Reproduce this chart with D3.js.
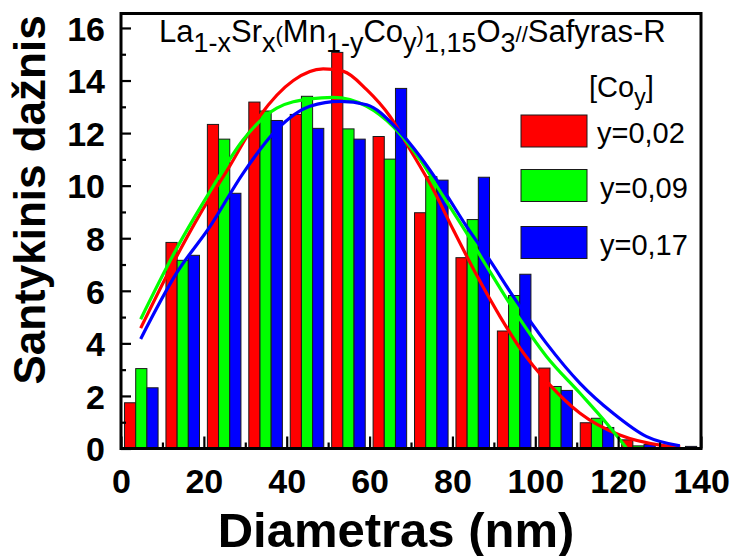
<!DOCTYPE html>
<html>
<head>
<meta charset="utf-8">
<script src="https://cdn.jsdelivr.net/npm/d3@7"></script>
<style>
  html, body { margin: 0; padding: 0; background: #fff; }
  svg { display: block; }
  text { font-family: "Liberation Sans", Arial, Helvetica, sans-serif; }
</style>
</head>
<body>
<svg id="chart" width="733" height="556"></svg>
<script>
// Particle diameter histogram, 10 nm bins
const binStarts = [0, 10, 20, 30, 40, 50, 60, 70, 80, 90, 100, 110, 120, 130];
const seriesNames = ["y=0,02", "y=0,09", "y=0,17"];
const seriesColors = ["#ff0000", "#00ff00", "#0000ff"];
const freqY002 = [1.74, 7.84, 12.33, 13.18, 12.71, 15.07, 11.87, 8.97, 7.26, 4.47, 3.06, 0.98, 0.33, 0.05];
const freqY009 = [3.04, 7.16, 11.77, 12.84, 13.40, 12.16, 11.01, 10.34, 8.71, 5.82, 2.36, 1.15, 0.10, 0];
const freqY017 = [2.31, 7.35, 9.71, 12.48, 12.18, 11.77, 13.70, 10.21, 10.32, 6.63, 2.21, 0.80, 0.15, 0.08];

// Fitted distribution curves: [diameter, frequency]
const fitY002 = [[4.75, 4.58], [13.4, 7.3], [19, 8.9], [25.5, 10.55], [33.5, 12.65], [41.6, 14.0], [48.8, 14.44], [53.7, 14.35], [59.3, 13.65], [64.9, 12.64], [69.8, 11.37], [75.4, 9.84], [80.2, 8.32], [86, 6.55], [91.5, 5.02], [96.3, 3.82], [103.5, 2.42], [110.8, 1.34], [120.4, 0.51], [130.1, 0.13], [135, 0.06]];
const fitY009 = [[4.75, 4.92], [13.4, 7.6], [21.5, 9.78], [29.5, 11.75], [37.6, 12.95], [45.6, 13.3], [51.2, 13.36], [59.3, 13.02], [65.7, 12.25], [72.2, 10.99], [77.8, 9.59], [83.4, 8.2], [88, 7.0], [94.7, 5.3], [102.7, 3.5], [110.8, 2.1], [117.2, 0.96], [122, 0.02]];
const fitY017 = [[4.75, 4.17], [13.4, 6.67], [21.5, 8.45], [29.5, 10.48], [37.6, 12.13], [45.6, 13.02], [52.9, 13.21], [59.3, 13.08], [66.5, 12.19], [72.2, 11.11], [77.8, 9.84], [83.4, 8.45], [88.7, 7.24], [94.7, 5.78], [102.7, 4.0], [110.8, 2.48], [118.8, 1.34], [126.9, 0.45], [134.9, 0.1]];

const xMajor = [0, 20, 40, 60, 80, 100, 120, 140];
const xMinor = [10, 30, 50, 70, 90, 110, 130];
const yMajor = [0, 2, 4, 6, 8, 10, 12, 14, 16];
const yMinor = [1, 3, 5, 7, 9, 11, 13, 15];

const freqs = [freqY002, freqY009, freqY017];
const fits = [fitY002, fitY009, fitY017];

const svg = d3.select("#chart");
const plotL = 121, plotR = 701, plotT = 13.5, plotB = 448.5;
const x = d3.scaleLinear().domain([0, 140]).range([plotL, plotR]);
const y = d3.scaleLinear().domain([0, 16.55]).range([plotB, plotT]);

// three adjacent bars per bin
const barOffset = 0.85, barWidth = 2.7;

const bars = svg.append("g");
freqs.forEach((vals, si) => {
  bars.selectAll(null)
    .data(vals.map((v, i) => ({ b: binStarts[i], v })))
    .enter().append("rect")
    .attr("x", d => x(d.b + barOffset + si * barWidth))
    .attr("width", d => x(d.b + barOffset + (si + 1) * barWidth) - x(d.b + barOffset + si * barWidth))
    .attr("y", d => y(d.v))
    .attr("height", d => y(0) - y(d.v))
    .attr("fill", seriesColors[si])
    .attr("stroke", "#1a1a1a")
    .attr("stroke-width", 1);
});

const line = d3.line().x(d => x(d[0])).y(d => y(d[1])).curve(d3.curveMonotoneX);
fits.forEach((pts, si) => {
  svg.append("path")
    .attr("d", line(pts))
    .attr("fill", "none")
    .attr("stroke", seriesColors[si])
    .attr("stroke-width", 3.2);
});

// axes with inward ticks
const tickFont = g => g.selectAll("text")
  .attr("font-size", 34).attr("font-weight", "bold").attr("fill", "#000")
  .style("font-family", '"Liberation Sans", Arial, sans-serif');

const yAx = svg.append("g").attr("transform", `translate(${plotL},0)`)
  .call(d3.axisLeft(y).tickValues(yMajor).tickFormat(d3.format("d"))
    .tickSizeInner(-10).tickSizeOuter(0).tickPadding(16));
yAx.call(tickFont);
yAx.selectAll("text").attr("dy", "0.36em");
svg.append("g").attr("transform", `translate(${plotL},0)`)
  .call(d3.axisLeft(y).tickValues(yMinor).tickFormat("").tickSizeInner(-5).tickSizeOuter(0));

const xAx = svg.append("g").attr("transform", `translate(0,${plotB})`)
  .call(d3.axisBottom(x).tickValues(xMajor).tickFormat(d3.format("d"))
    .tickSizeInner(-12).tickSizeOuter(0).tickPadding(20));
xAx.call(tickFont);
svg.append("g").attr("transform", `translate(0,${plotB})`)
  .call(d3.axisBottom(x).tickValues(xMinor).tickFormat("").tickSizeInner(-6).tickSizeOuter(0));

svg.selectAll(".domain").remove();
svg.selectAll(".tick line").attr("stroke", "#000").attr("stroke-width", 2.2);

svg.append("rect")
  .attr("x", plotL).attr("y", plotT)
  .attr("width", plotR - plotL).attr("height", plotB - plotT)
  .attr("fill", "none").attr("stroke", "#000").attr("stroke-width", 3);

// axis titles
svg.append("text")
  .attr("x", 396).attr("y", 547)
  .attr("text-anchor", "middle")
  .attr("font-size", 49).attr("font-weight", "bold")
  .text("Diametras (nm)");

svg.append("text")
  .attr("transform", "translate(45,200) rotate(-90)")
  .attr("text-anchor", "middle")
  .attr("font-size", 44).attr("font-weight", "bold")
  .text("Santykinis dažnis");

// compound formula heading
const formula = [
  { t: "La", k: "m" }, { t: "1-x", k: "s" }, { t: "Sr", k: "m" }, { t: "x", k: "s" },
  { t: "(", k: "p" }, { t: "Mn", k: "m" }, { t: "1-y", k: "s" }, { t: "Co", k: "m" },
  { t: "y", k: "s" }, { t: ")", k: "p" }, { t: "1,15", k: "s" }, { t: "O", k: "m" },
  { t: "3", k: "s" }, { t: "//", k: "p" }, { t: "Safyras-R", k: "m" }
];
const fsize = { m: 31, s: 27, p: 22 };
const fshift = { m: 0, s: 10, p: 0 };
const head = svg.append("text").attr("x", 159).attr("y", 42);
let prev = 0;
formula.forEach(seg => {
  head.append("tspan")
    .attr("font-size", fsize[seg.k])
    .attr("dy", fshift[seg.k] - prev)
    .text(seg.t);
  prev = fshift[seg.k];
});

// legend
const leg = svg.append("g");
const legHead = leg.append("text").attr("x", 589).attr("y", 97).attr("font-size", 29);
legHead.append("tspan").text("[Co");
legHead.append("tspan").attr("font-size", 23).attr("dy", 8).text("y");
legHead.append("tspan").attr("dy", -8).text("]");

const legRowY = [115, 169.5, 226.5];
const legTextX = [597, 600, 600];
seriesNames.forEach((name, i) => {
  leg.append("rect")
    .attr("x", 521).attr("y", legRowY[i])
    .attr("width", 66).attr("height", 32)
    .attr("fill", seriesColors[i]).attr("stroke", "#1a1a1a").attr("stroke-width", 1);
  leg.append("text")
    .attr("x", legTextX[i]).attr("y", legRowY[i] + 28)
    .attr("font-size", 29)
    .text(name);
});
</script>
</body>
</html>
